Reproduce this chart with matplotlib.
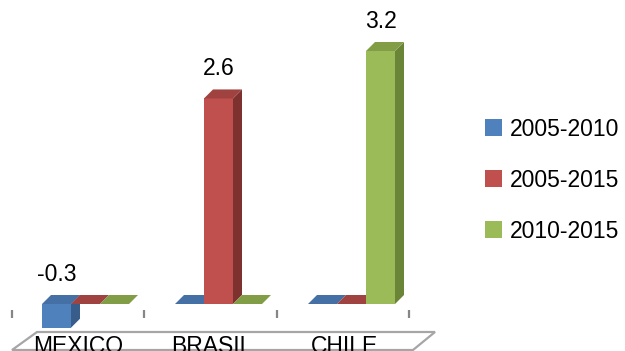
import matplotlib
matplotlib.use("Agg")
import matplotlib.pyplot as plt
from matplotlib.patches import Polygon, Patch

# chart data
countries = ["MEXICO", "BRASIL", "CHILE"]
periods = ["2005-2010", "2005-2015", "2010-2015"]
mexico = [-0.3, 0.0, 0.0]
brasil = [0.0, 2.6, 0.0]
chile = [0.0, 0.0, 3.2]

# face colours per series: front, side, top
front_colors = ["#4F81BD", "#C0504D", "#9BBB59"]
side_colors = ["#385D8A", "#7E3230", "#6A8538"]
top_colors = ["#4470A6", "#A0423F", "#819E47"]

W, H = 625, 351
PX_PER_CAT = 133.0          # horizontal pixels per category
PX_PER_UNIT = 253 / 3.2     # vertical pixels per value unit
X0_PX, Y0_PX = 78.5, 304.0  # pixel position of category 0 label / zero line


def dx(p):
    return p / PX_PER_CAT


def dy(p):
    return p / PX_PER_UNIT


def px_x(p):
    return (p - X0_PX) / PX_PER_CAT


def px_y(p):
    return (Y0_PX - p) / PX_PER_UNIT


plt.rcParams["font.family"] = ["Liberation Sans", "DejaVu Sans"]
FS = 16.5

fig = plt.figure(figsize=(W / 100, H / 100), dpi=100)
ax = fig.add_axes([0, 0, 1, 1])
ax.set_xlim(px_x(0), px_x(W))
ax.set_ylim(px_y(H), px_y(0))
ax.axis("off")

# floor of the 3D plot area
floor = Polygon([(px_x(12), px_y(350)), (px_x(413), px_y(350)),
                 (px_x(435), px_y(332)), (px_x(37), px_y(332))],
                closed=True, facecolor="white", edgecolor="#A6A6A6", lw=1.6)
ax.add_patch(floor)

# category tick marks on the front edge
for k in range(len(countries) + 1):
    x = px_x(12) + k * dx(132.3)
    ax.plot([x, x], [px_y(310), px_y(318)], color="#868686", lw=1.6,
            solid_capstyle="butt")

for i, name in enumerate(countries):
    ax.text(i, px_y(353), name, ha="center", va="baseline", fontsize=FS,
            clip_on=False)

# 3D columns
bar_w = dx(29)
shift = dx(7)
depth_x, depth_y = dx(9), dy(9)
values = [mexico, brasil, chile]
for c, row in enumerate(values):
    left = c + shift - 1.5 * bar_w
    for s, v in enumerate(row):
        x0 = left + s * bar_w
        x1 = x0 + bar_w
        lo, hi = min(0.0, v), max(0.0, v)
        if hi > lo:
            ax.add_patch(Polygon([(x1, lo), (x1, hi), (x1 + depth_x, hi + depth_y),
                                  (x1 + depth_x, lo + depth_y)],
                                 facecolor=side_colors[s], lw=0))
            ax.add_patch(Polygon([(x0, lo), (x1, lo), (x1, hi), (x0, hi)],
                                 facecolor=front_colors[s], lw=0))
        ax.add_patch(Polygon([(x0, hi), (x1, hi), (x1 + depth_x, hi + depth_y),
                              (x0 + depth_x, hi + depth_y)],
                             facecolor=top_colors[s], lw=0))
        if v != 0:
            ax.text((x0 + x1) / 2, hi + depth_y + dy(9), f"{v:.1f}",
                    ha="center", va="bottom", fontsize=FS)

handles = [Patch(facecolor=c, edgecolor="none") for c in front_colors]
ax.legend(handles, periods, loc="center left", bbox_to_anchor=(0.776, 0.487),
          frameon=False, fontsize=FS, handlelength=0.72, handleheight=0.72,
          handletextpad=0.35, labelspacing=1.22, borderaxespad=0,
          borderpad=0)

fig.savefig("out.png", dpi=100)
